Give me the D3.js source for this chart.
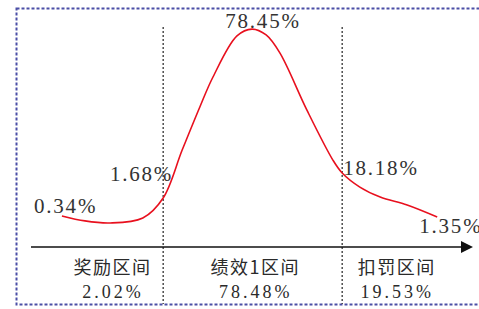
<!DOCTYPE html>
<html>
<head>
<meta charset="utf-8">
<script src="https://cdn.jsdelivr.net/npm/d3@7"></script>
<style>
  html, body { margin: 0; padding: 0; background: #fff; }
  svg { display: block; }
  .plabel { font-family: 'Liberation Serif'; font-size: 21px; letter-spacing: 1.8px; fill: #333; }
  .zshare { font-family: 'Liberation Serif'; font-size: 18px; letter-spacing: 3px; fill: #2a2a2a; }
  .zname { font-family: 'Noto Sans CJK SC'; font-size: 18px; letter-spacing: 1.5px; fill: #2a2a2a; }
</style>
</head>
<body>
<div id="chart"></div>
<script>
// curve shape (schematic), x and height on 0-100 scales
const curveX = [7.0, 12.2, 17.9, 25.3, 29.9, 34.2, 38.2, 41.2, 46.6, 50.0, 53.2, 56.3, 62.4, 68.3, 70.4, 74.4, 79.0, 85.1, 91.9];
const curveY = [13.7, 11.5, 10.6, 12.8, 21.6, 42.7, 61.7, 75.0, 93.0, 96.0, 93.4, 85.5, 60.4, 38.3, 32.6, 26.4, 22.0, 18.5, 13.2];

// boundaries between zones
const cutX = [29.9, 70.4];

// point labels
const pointLabels = ['0.34%', '1.68%', '78.45%', '18.18%', '1.35%'];
const pointIndex = [0, 4, 9, 14, 18];

// zones
const zoneNames = ['奖励区间', '绩效1区间', '扣罚区间'];
const zoneShares = ['2.02%', '78.48%', '19.53%'];
const zoneCenter = [18.2, 50.5, 82.5];

const width = 479, height = 309;

const svg = d3.select('#chart').append('svg')
  .attr('width', width)
  .attr('height', height);

const x = d3.scaleLinear().domain([0, 100]).range([31, 473]);
const y = d3.scaleLinear().domain([0, 100]).range([247, 20]);

// dashed frame
svg.append('rect')
  .attr('x', 16.5)
  .attr('y', 8.5)
  .attr('width', 480)
  .attr('height', 296)
  .attr('fill', 'none')
  .attr('stroke', '#4b4fa6')
  .attr('stroke-width', 2)
  .attr('stroke-dasharray', '3,2');

// zone boundaries
svg.selectAll('.cut')
  .data(cutX)
  .join('line')
  .attr('class', 'cut')
  .attr('x1', d => x(d)).attr('x2', d => x(d))
  .attr('y1', 27).attr('y2', 304)
  .attr('stroke', '#222')
  .attr('stroke-width', 1.2)
  .attr('stroke-dasharray', '2,2');

// axis with arrow
svg.append('line')
  .attr('x1', x(0)).attr('x2', x(100) - 8)
  .attr('y1', y(0)).attr('y2', y(0))
  .attr('stroke', '#111')
  .attr('stroke-width', 1.5);

svg.append('path')
  .attr('d', `M${x(100)},${y(0)} L${x(100) - 12},${y(0) - 6} L${x(100) - 12},${y(0) + 6} Z`)
  .attr('fill', '#111');

// curve
const pts = curveX.map((d, i) => ({ x: d, y: curveY[i] }));
const line = d3.line()
  .x(d => x(d.x))
  .y(d => y(d.y))
  .curve(d3.curveCatmullRom.alpha(0.5));

svg.append('path')
  .datum(pts)
  .attr('d', line)
  .attr('fill', 'none')
  .attr('stroke', '#e8101e')
  .attr('stroke-width', 1.6);

// point labels
const labelOffsets = [[-28, -3, 'start'], [10, -17, 'end'], [11, -1, 'middle'], [1, 2, 'start'], [-18, 16, 'start']];
svg.selectAll('.plabel')
  .data(pointLabels)
  .join('text')
  .attr('class', 'plabel')
  .attr('x', (d, i) => x(pts[pointIndex[i]].x) + labelOffsets[i][0])
  .attr('y', (d, i) => y(pts[pointIndex[i]].y) + labelOffsets[i][1])
  .attr('text-anchor', (d, i) => labelOffsets[i][2])
  .text(d => d);

// zone labels
svg.selectAll('.zname')
  .data(zoneNames)
  .join('text')
  .attr('class', 'zname')
  .attr('x', (d, i) => x(zoneCenter[i]) + 1)
  .attr('y', 274)
  .attr('text-anchor', 'middle')
  .text(d => d);

svg.selectAll('.zshare')
  .data(zoneShares)
  .join('text')
  .attr('class', 'zshare')
  .attr('x', (d, i) => x(zoneCenter[i]) + 1.5)
  .attr('y', 298)
  .attr('text-anchor', 'middle')
  .text(d => d);
</script>
</body>
</html>
